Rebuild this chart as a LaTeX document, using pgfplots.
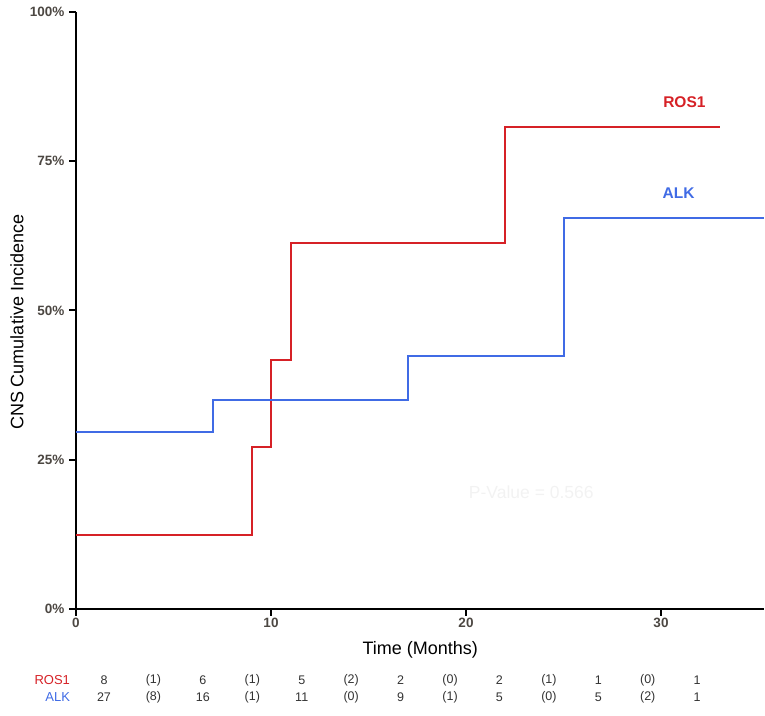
\documentclass[border=0pt]{standalone}
\usepackage{pgfplots}
\pgfplotsset{compat=1.18}
\usepackage{fontspec}
\setmainfont{Liberation Sans}
\definecolor{rosred}{rgb}{0.84,0.13,0.15}
\definecolor{alkblue}{rgb}{0.25,0.42,0.90}
\definecolor{ticklab}{rgb}{0.30,0.28,0.26}
\definecolor{pval}{rgb}{0.95,0.95,0.95}
\newcommand{\rt}[3]{\node[font=\fontsize{12.5}{13}\selectfont, text=black!80, inner sep=0pt] at (axis cs:#1,#2) {#3};}
\begin{document}
\begin{tikzpicture}
\begin{axis}[
  x=19.5pt, y=5.97pt,
  xmin=0, xmax=35.3, ymin=0, ymax=100,
  axis x line*=bottom, axis y line*=left,
  axis line style={-, line width=1.8pt, black},
  xtick pos=bottom, ytick pos=left,
  tick align=outside,
  major tick length=6pt,
  every tick/.style={line width=1.8pt, black},
  xtick={0,10,20,30},
  xticklabels={0,10,20,30},
  ytick={0,25,50,75,100},
  yticklabels={0\%,25\%,50\%,75\%,100\%},
  tick label style={font=\bfseries\fontsize{13.5}{14}\selectfont, text=ticklab},
  yticklabel style={xshift=-2pt},
  xlabel={Time (Months)},
  ylabel={CNS Cumulative Incidence},
  label style={font=\fontsize{18}{19}\selectfont},
  xlabel style={at={(axis description cs:0.5,-0.0687)}, anchor=center},
  ylabel style={at={(axis description cs:-0.0858,0.48)}, anchor=center},
  clip=false,
  extra description/.code={
    \foreach \t in {0,0.28329,0.56657,0.84986}
      \draw[line width=2pt, black] (axis description cs:\t,0) -- ++(0,-7pt);
    \foreach \t in {0,0.25,0.5,0.75,1}
      \draw[line width=2pt, black] (axis description cs:0,\t) -- ++(-7pt,0);
  },
]
% ROS1
\addplot[const plot, rosred, line width=2pt] coordinates {
  (0,12.4) (9,27.1) (10,41.7) (11,61.3) (22,80.7) (33,80.7)
};
% ALK
\addplot[const plot, alkblue, line width=2pt] coordinates {
  (0,29.6) (7,35.0) (17,42.3) (25,65.5) (35.3,65.5)
};
\node[text=rosred, font=\bfseries\fontsize{15.5}{16}\selectfont] at (axis cs:31.2,84.9) {ROS1};
\node[text=alkblue, font=\bfseries\fontsize{15.5}{16}\selectfont] at (axis cs:30.9,69.7) {ALK};
\node[text=pval, font=\fontsize{17.5}{18}\selectfont] at (axis cs:23.35,19.6) {P-Value = 0.566};
% risk table
\node[anchor=east, text=rosred, font=\fontsize{13}{14}\selectfont, inner sep=0pt] at (axis cs:-0.3,-11.9) {ROS1};
\node[anchor=east, text=alkblue, font=\fontsize{13}{14}\selectfont, inner sep=0pt] at (axis cs:-0.3,-14.75) {ALK};
\rt{1.436}{-11.9}{8}
\rt{3.971}{-11.9}{(1)}
\rt{6.506}{-11.9}{6}
\rt{9.041}{-11.9}{(1)}
\rt{11.576}{-11.9}{5}
\rt{14.111}{-11.9}{(2)}
\rt{16.646}{-11.9}{2}
\rt{19.181}{-11.9}{(0)}
\rt{21.716}{-11.9}{2}
\rt{24.251}{-11.9}{(1)}
\rt{26.786}{-11.9}{1}
\rt{29.321}{-11.9}{(0)}
\rt{31.856}{-11.9}{1}
\rt{1.436}{-14.75}{27}
\rt{3.971}{-14.75}{(8)}
\rt{6.506}{-14.75}{16}
\rt{9.041}{-14.75}{(1)}
\rt{11.576}{-14.75}{11}
\rt{14.111}{-14.75}{(0)}
\rt{16.646}{-14.75}{9}
\rt{19.181}{-14.75}{(1)}
\rt{21.716}{-14.75}{5}
\rt{24.251}{-14.75}{(0)}
\rt{26.786}{-14.75}{5}
\rt{29.321}{-14.75}{(2)}
\rt{31.856}{-14.75}{1}
\end{axis}
\pgfresetboundingbox
\path (-76pt,-106pt) rectangle (689pt,609pt);
\end{tikzpicture}
\end{document}
